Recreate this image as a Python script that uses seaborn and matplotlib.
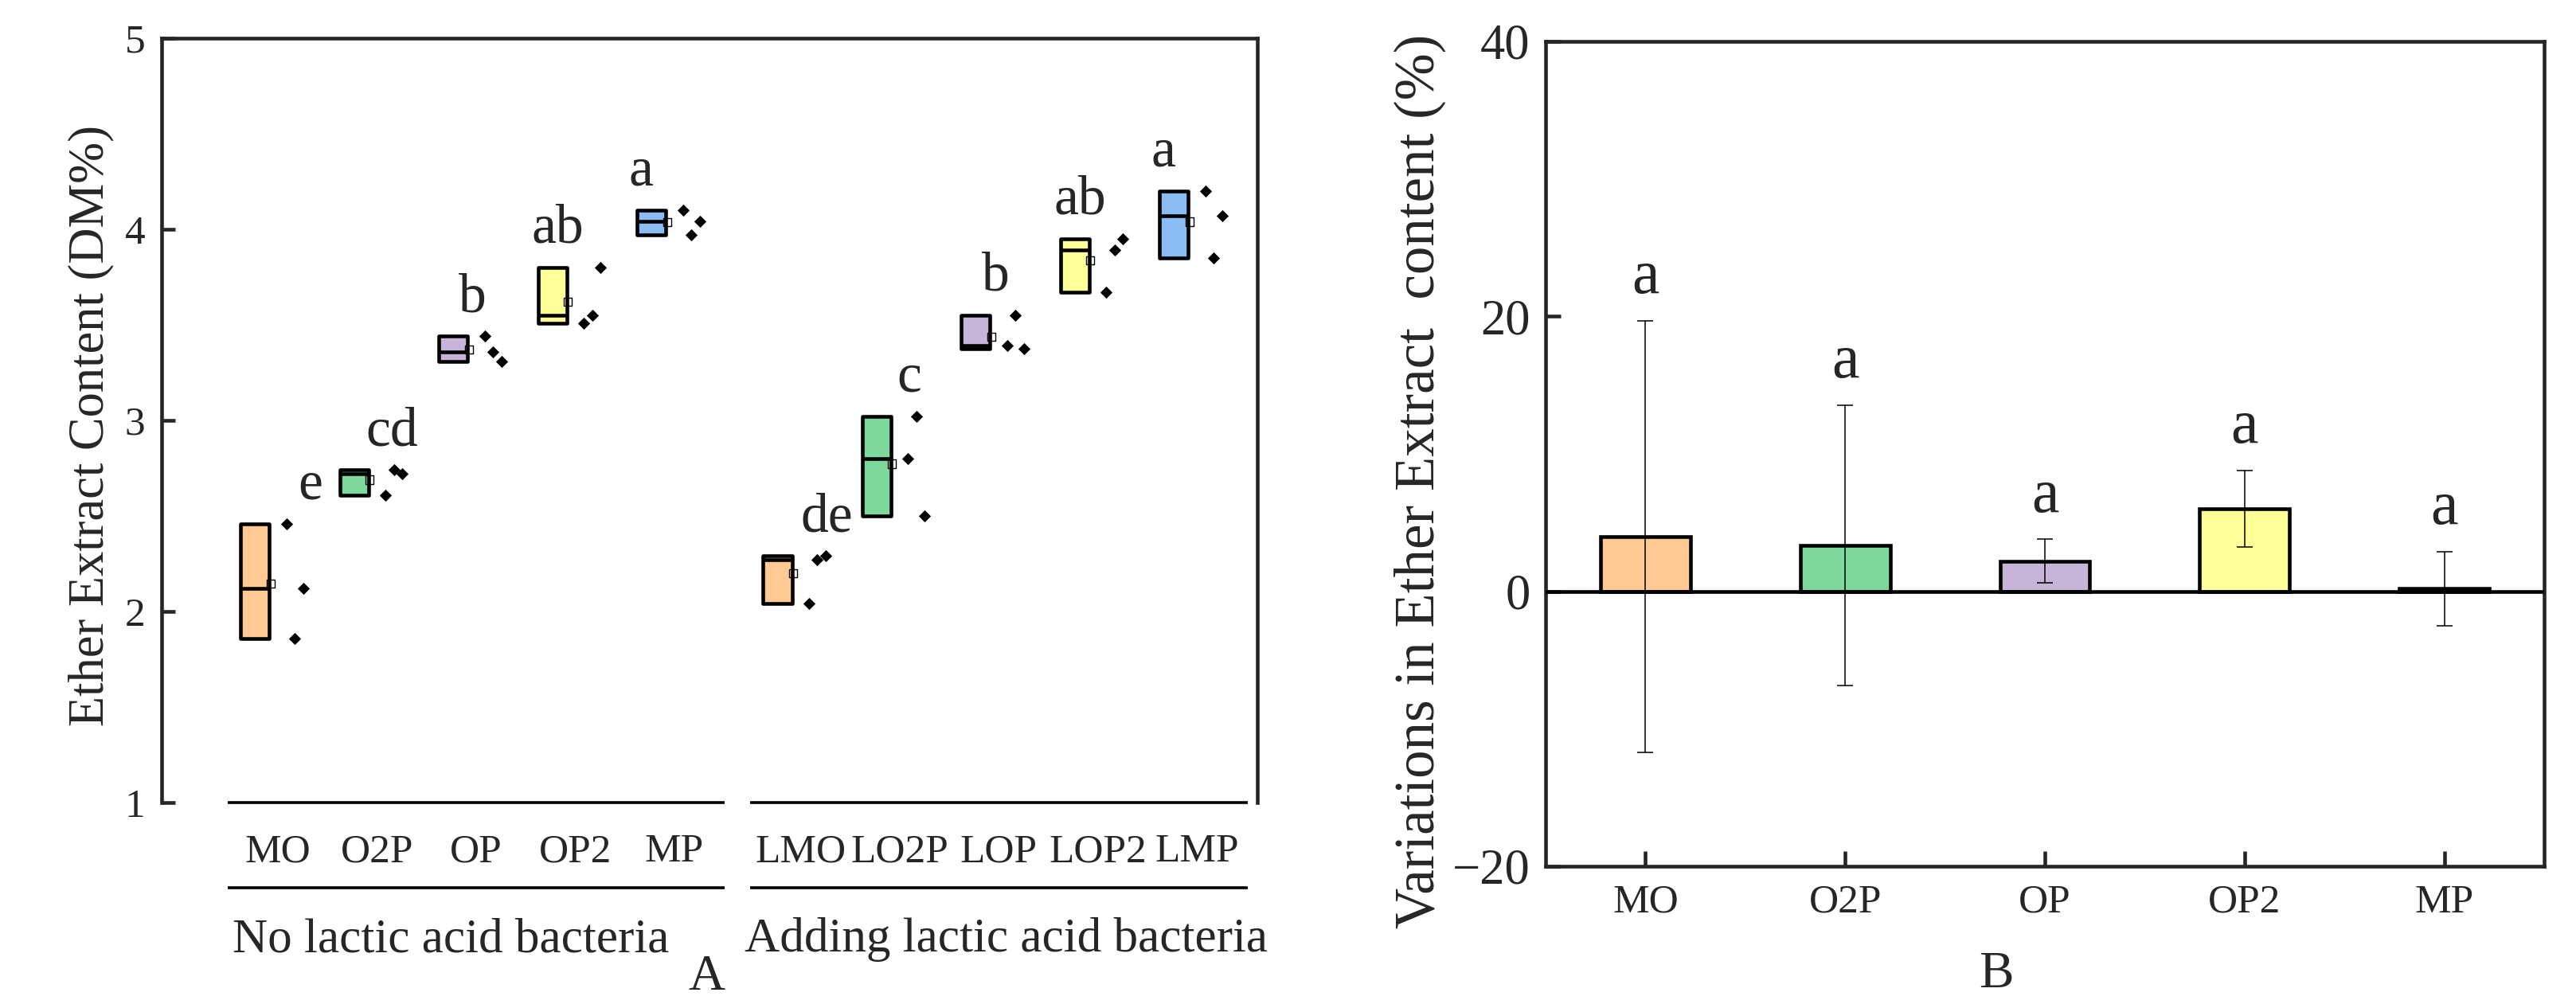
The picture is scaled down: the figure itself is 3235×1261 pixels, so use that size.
import numpy as np
import pandas as pd
import matplotlib
matplotlib.use("Agg")
import matplotlib.pyplot as plt
import matplotlib.transforms as mtransforms
import seaborn as sns

# ---------------- data: panel A (three replicates per treatment) ----------------
group_names = ["No lactic acid bacteria", "Adding lactic acid bacteria"]
cats_no_lab = ["MO", "O2P", "OP", "OP2", "MP"]
cats_lab = ["LMO", "LO2P", "LOP", "LOP2", "LMP"]
rep1 = [2.46, 2.61, 3.44, 3.51, 4.10, 2.04, 2.80, 3.39, 3.67, 4.20]
rep2 = [1.86, 2.74, 3.36, 3.55, 3.97, 2.27, 3.02, 3.55, 3.89, 3.85]
rep3 = [2.12, 2.72, 3.31, 3.80, 4.04, 2.29, 2.50, 3.375, 3.95, 4.07]
letters_a = ["e", "cd", "b", "ab", "a", "de", "c", "b", "ab", "a"]

# ---------------- data: panel B ----------------
cats_b = ["MO", "O2P", "OP", "OP2", "MP"]
var_mean = [4.0, 3.35, 2.2, 6.0, 0.2]
var_err = [15.7, 10.2, 1.6, 2.8, 2.7]
letters_b = ["a", "a", "a", "a", "a"]

# ---------------- styling / layout ----------------
colors = ["#FFC994", "#7FD89B", "#C8B4D8", "#FFFF99", "#8CBCF4"]
group_gap = 5.27            # x offset of the second treatment group
letter_dx = [0.33, 0.15, -0.04, -0.18, -0.34, 0.27, 0.10, -0.03, -0.18, -0.34]
LW = 3.3
sns.set_style("ticks")
plt.rcParams["font.family"] = ["Liberation Serif", "DejaVu Serif"]
plt.rcParams["mathtext.fontset"] = "stix"

W, H = 3235, 1261
fig = plt.figure(figsize=(W / 100, H / 100), dpi=100)
axA = fig.add_axes([203 / W, 1 - 1008 / H, (1579 - 203) / W, (1008 - 48) / H])
axB = fig.add_axes([1941 / W, 1 - 1088 / H, (3195 - 1941) / W, (1088 - 52) / H])

# ================= Panel A =================
cats_a = cats_no_lab + cats_lab
pos = np.array([float(i) for i in range(5)] + [group_gap + i for i in range(5)])
colA = colors + colors
reps = np.array([rep1, rep2, rep3]).T   # rows = treatment

box_off, box_w = -0.23, 0.29
stats = []
for vals in reps:
    stats.append(dict(med=float(np.median(vals)), q1=float(vals.min()), q3=float(vals.max()),
                      whislo=float(vals.min()), whishi=float(vals.max()),
                      mean=float(vals.mean()), fliers=[]))
bp = axA.bxp(stats, positions=pos + box_off, widths=box_w, patch_artist=True,
             showcaps=False, showfliers=False, showmeans=False, manage_ticks=False,
             boxprops=dict(linewidth=LW, edgecolor="black"),
             medianprops=dict(color="black", linewidth=LW),
             whiskerprops=dict(linewidth=0))
for patch, c in zip(bp["boxes"], colA):
    patch.set_facecolor(c)
    patch.set_joinstyle("round")

# mean markers (small open squares at the right edge of each box)
mean_df = pd.DataFrame({"x": pos + box_off + box_w / 2 + 0.01, "mean": reps.mean(axis=1)})
sns.scatterplot(data=mean_df, x="x", y="mean", marker="s", s=55, facecolor="none",
                edgecolor="black", linewidth=1.0, ax=axA, zorder=4, legend=False)

# raw data points
rows = []
for i, c in enumerate(cats_a):
    for k, v in enumerate(reps[i]):
        rows.append({"cat": c, "x": pos[i] + 0.085 + 0.085 * k, "value": v})
pts = pd.DataFrame(rows)
sns.scatterplot(data=pts, x="x", y="value", marker="D", s=60, color="black",
                linewidth=0, ax=axA, zorder=5, legend=False)

# significance letters
for i, lt in enumerate(letters_a):
    axA.text(pos[i] + letter_dx[i], reps[i].max() + 0.13, lt, ha="center",
             va="baseline", fontsize=50)

axA.set_xlim(-1.173, 9.88)
axA.set_ylim(1, 5)
axA.set_yticks([1, 2, 3, 4, 5])
axA.set_xticks(pos)
axA.set_xticklabels(cats_a)
axA.set_xlabel("")
axA.set_ylabel("")
axA.spines["bottom"].set_visible(False)
for s in ["left", "top", "right"]:
    axA.spines[s].set_linewidth(LW)
    axA.spines[s].set_visible(True)
axA.tick_params(axis="y", direction="in", length=12, width=LW, labelsize=37, pad=15,
                right=False)
axA.tick_params(axis="x", length=0, labelsize=37, pad=28)

# group brackets and labels
trans = mtransforms.blended_transform_factory(axA.transData, axA.transAxes)
for g, name in enumerate(group_names):
    x0 = pos[5 * g] - 0.51
    x1 = pos[5 * g + 4] + 0.51
    for yy in (0.0, -0.111):
        axA.plot([x0, x1], [yy, yy], color="black", lw=2.6, transform=trans,
                 clip_on=False, solid_capstyle="butt")
    axA.text(x0 + (0.05 if g == 0 else -0.05), -0.195, name, transform=trans,
             ha="left", va="baseline", fontsize=44)

fig.text(114 / W, 1 - 534 / H, "Ether Extract Content (DM%)", rotation=90,
         ha="center", va="center", fontsize=45)
fig.text(887 / W, 1 - 1243 / H, "A", ha="center", va="baseline", fontsize=46)

# ================= Panel B =================
dfB = pd.DataFrame({"cat": cats_b, "mean": var_mean, "err": var_err})
sns.barplot(data=dfB, x="cat", y="mean", hue="cat", palette=colors, width=0.45,
            saturation=1, edgecolor="black", linewidth=LW, errorbar=None,
            legend=False, ax=axB, zorder=2)
axB.errorbar(x=np.arange(len(cats_b)), y=dfB["mean"], yerr=dfB["err"], fmt="none",
             ecolor="black", elinewidth=1.1, capsize=7, capthick=1.1, zorder=4)
axB.axhline(0, color="black", lw=LW, zorder=3)
for i, lt in enumerate(letters_b):
    axB.text(i, var_mean[i] + var_err[i] + 2.0, lt, ha="center", va="baseline",
             fontsize=56)

axB.set_xlim(-0.5, 4.5)
axB.set_ylim(-20, 40)
axB.set_yticks([-20, 0, 20, 40])
axB.set_xlabel("")
axB.set_ylabel("")
for s in ["left", "top", "right", "bottom"]:
    axB.spines[s].set_linewidth(LW)
    axB.spines[s].set_visible(True)
axB.tick_params(axis="y", direction="in", length=14, width=LW, labelsize=45, pad=14)
axB.tick_params(axis="x", direction="in", length=14, width=LW, labelsize=37, pad=16)

fig.text(1783 / W, 1 - 604 / H, "Variations in Ether Extract  content (%)", rotation=90,
         ha="center", va="center", fontsize=51)
fig.text(2507 / W, 1 - 1240 / H, "B", ha="center", va="baseline", fontsize=47)

fig.savefig("out.png", dpi=100)
